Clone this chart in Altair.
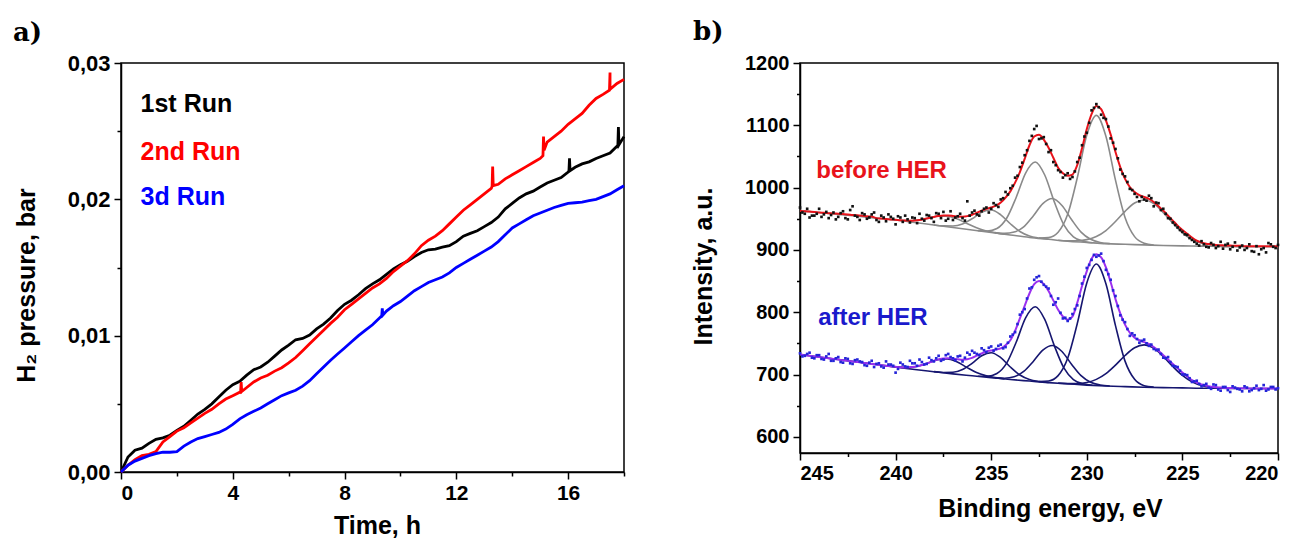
import altair as alt
import numpy as np
import pandas as pd

SANS = "Liberation Sans"
SERIF = "DejaVu Serif"

# ---------------- panel a) : H2 pressure vs time ----------------
time_h = [0.0, 0.5, 1.0, 1.5, 2.0, 2.5, 3.0, 3.5, 4.0, 4.5, 5.0, 5.5, 6.0, 6.5, 7.0, 7.5, 8.0, 8.5,
          9.0, 9.5, 10.0, 10.5, 11.0, 11.5, 12.0, 12.5, 13.0, 13.5, 14.0, 14.5, 15.0, 15.5, 16.0,
          16.5, 17.0, 17.5, 18.0]
time_q = [0.25, 0.75, 1.25, 1.75, 2.25, 2.75, 3.25, 3.75, 4.25, 4.75, 5.25, 5.75, 6.25, 6.75, 7.25,
          7.75, 8.25, 8.75, 9.25, 9.75, 10.25, 10.75, 11.25, 11.75, 12.25, 12.75, 13.25, 13.75,
          14.25, 14.75, 15.25, 15.75, 16.25, 16.75, 17.25, 17.75]
# values in 1e-3 bar
run1 = [0.0, 1.6, 2.1, 2.5, 3.05, 3.8, 4.6, 5.5, 6.4, 7.1, 7.7, 8.5, 9.3, 9.8, 10.5, 11.3, 12.3, 13.0,
        13.8, 14.5, 15.2, 15.8, 16.3, 16.5, 16.9, 17.5, 18.0, 18.7, 19.7, 20.4, 20.9, 21.4, 22.0,
        22.6, 23.0, 23.4, 24.6]
run1_q = [1.1, 1.75, 2.4, 2.7, 3.35, 4.25, 5.0, 6.0, 6.65, 7.5, 8.05, 8.95, 9.7, 10.05, 10.85, 11.85,
          12.6, 13.45, 14.1, 14.9, 15.45, 16.1, 16.35, 16.6, 17.3, 17.7, 18.3, 19.3, 20.1, 20.6,
          21.2, 21.6, 22.35, 22.75, 23.2, 23.9]
run2 = [0.0, 0.9, 1.3, 2.2, 3.0, 3.6, 4.3, 5.0, 5.6, 6.2, 6.9, 7.4, 8.0, 8.9, 9.9, 10.9, 11.9, 12.7,
        13.5, 14.2, 15.1, 16.0, 17.0, 17.7, 18.7, 19.6, 20.4, 21.1, 21.8, 22.4, 23.0, 24.6, 25.5,
        26.3, 27.4, 28.1, 28.8]
run2_q = [0.5, 1.2, 1.5, 2.6, 3.25, 3.95, 4.6, 5.35, 5.85, 6.6, 7.1, 7.65, 8.4, 9.4, 10.4, 11.35,
          12.3, 13.1, 13.8, 14.7, 15.5, 16.6, 17.3, 18.2, 19.2, 20.0, 20.8, 21.5, 22.1, 22.7,
          24.2, 25.0, 25.9, 26.9, 27.7, 28.5]
run3 = [0.0, 0.8, 1.2, 1.45, 1.5, 2.2, 2.6, 2.9, 3.5, 4.2, 4.7, 5.3, 5.8, 6.3, 7.2, 8.2, 9.1, 10.0,
        10.8, 11.8, 12.5, 13.3, 13.9, 14.3, 15.0, 15.6, 16.2, 16.9, 17.9, 18.5, 19.0, 19.4, 19.7,
        19.8, 20.0, 20.4, 21.0]
run3_q = [0.5, 1.0, 1.35, 1.45, 1.9, 2.45, 2.75, 3.15, 3.9, 4.45, 5.0, 5.6, 6.0, 6.7, 7.7, 8.65,
          9.55, 10.4, 11.3, 12.2, 12.9, 13.6, 14.1, 14.6, 15.3, 15.9, 16.5, 17.4, 18.2, 18.8,
          19.2, 19.55, 19.75, 19.9, 20.2, 20.7]
# short spikes seen in the traces
run1_spike_t = [16.03, 16.05, 16.07, 17.78, 17.80, 17.82]
run1_spike_v = [22.1, 23.0, 22.1, 23.9, 25.3, 24.0]
run2_spike_t = [4.28, 4.30, 4.32, 13.28, 13.30, 13.32, 15.10, 15.12, 15.14, 17.48, 17.50, 17.52]
run2_spike_v = [5.85, 6.6, 5.9, 20.95, 22.4, 21.0, 23.2, 24.6, 23.6, 28.0, 29.3, 28.1]
run3_spike_t = [9.33, 9.35, 9.37]
run3_spike_v = [11.45, 12.0, 11.5]

run_names = ["1st Run", "2nd Run", "3d Run"]
run_colors = ["#000000", "#ff0000", "#0000ff"]
legend_t = [0.7, 0.7, 0.7]
legend_p = [0.0270, 0.0235, 0.0202]


def run_frame(name, parts):
    tt, vv = [], []
    for t, v in parts:
        tt += list(t)
        vv += [x / 1000.0 for x in v]
    return pd.DataFrame({"t": tt, "p": vv, "run": name}).sort_values("t")


df_runs = pd.concat([
    run_frame(run_names[0], [(time_h, run1), (time_q, run1_q), (run1_spike_t, run1_spike_v)]),
    run_frame(run_names[1], [(time_h, run2), (time_q, run2_q), (run2_spike_t, run2_spike_v)]),
    run_frame(run_names[2], [(time_h, run3), (time_q, run3_q), (run3_spike_t, run3_spike_v)]),
])
df_leg = pd.DataFrame({"t": legend_t, "p": legend_p, "label": run_names, "color": run_colors})

common_axis = dict(
    grid=False, domainColor="black", domainWidth=1.5, tickColor="black", tickWidth=1.5,
    labelColor="black", labelFont=SANS, labelFontWeight="bold", titleColor="black",
    titleFont=SANS, titleFontWeight="bold", titleFontSize=25,
)

W1, H1 = 503, 409
xa = alt.X("t:Q", scale=alt.Scale(domain=[0, 18], nice=False, zero=False),
           axis=alt.Axis(values=[0, 2, 4, 6, 8, 10, 12, 14, 16, 18],
                         labelExpr="datum.value % 4 === 0 ? datum.label : ''",
                         tickSize={"condition": {"test": "datum.value % 4 === 0", "value": 7}, "value": 4},
                         labelFontSize=21, labelPadding=3,
                         title="Time, h", titleX=256, titleY=61, titleAlign="center",
                         titleBaseline="alphabetic", **common_axis))
major_y = "abs(datum.value*100 - round(datum.value*100)) < 0.001"
ya = alt.Y("p:Q", scale=alt.Scale(domain=[0, 0.03], nice=False, zero=False),
           axis=alt.Axis(values=[0, 0.005, 0.01, 0.015, 0.02, 0.025, 0.03],
                         labelExpr=major_y + " ? replace(format(datum.value, '.2f'), '.', ',') : ''",
                         tickSize={"condition": {"test": major_y, "value": 7}, "value": 4},
                         labelFontSize=22, labelPadding=4,
                         title="H₂ pressure, bar", titleX=-95, titleY=222, titleAngle=270,
                         titleAlign="center", titleBaseline="middle", **common_axis))

lines_a = alt.Chart(df_runs).mark_line(strokeWidth=2.8).encode(
    x=xa, y=ya,
    color=alt.Color("run:N", scale=alt.Scale(domain=run_names, range=run_colors), legend=None),
)
leg_a = alt.Chart(df_leg).mark_text(align="left", baseline="middle", font=SANS, fontSize=25,
                                    fontWeight="bold").encode(
    x="t:Q", y="p:Q", text="label:N", color=alt.Color("color:N", scale=None))
tag_a = alt.Chart(df_leg.head(1)).mark_text(text="a)", font=SERIF, fontSize=26, fontWeight="bold",
                                            align="left", baseline="alphabetic").encode(
    x=alt.value(-108), y=alt.value(-22))

panel_a = alt.layer(lines_a, leg_a, tag_a).properties(width=W1, height=H1)

# ---------------- panel b) : XPS spectra ----------------
E_grid = np.round(np.linspace(245, 220, 101), 3)
E_mid = np.round(np.linspace(244.875, 220.125, 100), 3)

env_before = [963, 962, 961.5, 961,
              960, 959.5, 959, 958.5,
              958, 957.5, 957, 956,
              955.5, 955, 954, 953.5,
              951, 950.3, 949.6, 948.9,
              948.3, 947.6, 947.1, 946.9,
              947.3, 948.1, 949.5, 951.1,
              952.9, 954.3, 955.1, 955.1,
              954.5, 953.6, 953.4, 954.2,
              956.5, 959.7, 963, 965.9,
              968, 971, 976, 984,
              994, 1008, 1025, 1046,
              1068, 1082, 1085, 1077,
              1064, 1048, 1032, 1023,
              1019, 1021, 1036, 1063,
              1094, 1118, 1131, 1126,
              1108, 1085, 1057, 1033,
              1014, 1001, 993, 988,
              985, 982, 977, 970,
              963, 955, 947, 939,
              932, 926, 920, 915,
              912, 910, 909, 908,
              907.5, 907, 907, 906.5,
              906.5, 906, 906, 906,
              906, 906, 906, 906,
              906]
dots_before = [968, 958, 952, 955,
               966, 957, 951, 960,
               953, 962, 949, 970,
               953, 959, 950, 957,
               948, 955, 946, 953,
               941, 952, 955, 944,
               951, 958, 947, 955,
               945, 958, 961, 950,
               948, 954, 951, 978,
               960, 957, 962, 968,
               966, 972, 981, 993,
               999, 1016, 1033, 1052,
               1075, 1094, 1078, 1081,
               1057, 1041, 1028, 1016,
               1023, 1017, 1041, 1068,
               1088, 1124, 1134, 1117,
               1110, 1079, 1062, 1029,
               1018, 998, 990, 978,
               981, 987, 970, 975,
               966, 951, 944, 936,
               929, 924, 916, 910,
               914, 905, 911, 903,
               913, 908, 901, 912,
               904, 900, 909, 897,
               893, 903, 911, 905,
               908]
dots_before_mid = [960, 966, 955, 958,
                   953, 961, 956, 949,
                   959, 951, 964, 955,
                   948, 957, 952, 960,
                   945, 952, 957, 950,
                   954, 945, 949, 952,
                   943, 950, 956, 951,
                   959, 951, 947, 962,
                   952, 958, 947, 955,
                   963, 955, 966, 960,
                   975, 969, 983, 989,
                   1003, 1019, 1040, 1060,
                   1083, 1099, 1079, 1070,
                   1060, 1036, 1025, 1020,
                   1014, 1026, 1048, 1082,
                   1104, 1128, 1129, 1112,
                   1098, 1072, 1047, 1022,
                   1009, 996, 985, 985,
                   979, 983, 976, 964,
                   958, 950, 940, 932,
                   925, 919, 913, 907,
                   909, 904, 908, 906,
                   902, 910, 905, 899,
                   907, 903, 898, 906,
                   901, 896, 909, 903]
env_after = [732, 731, 730, 729,
             728, 727, 726, 725,
             724, 723, 722, 721,
             720, 719, 718, 717,
             716, 715, 714.1, 713.2,
             712.4, 711.7, 711.4, 711.6,
             712.4, 714, 716.4, 719.1,
             722, 724.3, 725.8, 726.1,
             725.3, 724.5, 723.8, 724.5,
             726.7, 730.2, 733.7, 737,
             738.5, 740, 742, 747,
             755, 770, 790, 810,
             830, 845, 850, 845,
             834, 819, 804, 793,
             788, 793, 815, 842,
             866, 886, 893, 888,
             872, 848, 821, 798,
             780, 767, 759, 755,
             752, 749, 744, 738,
             731, 724, 717, 710,
             703, 697, 691, 687,
             684, 682, 680.5, 679.5,
             679, 678.5, 678.5, 678,
             678, 678, 677.5, 677.5,
             677.5, 677.5, 677.5, 677.5,
             677.5]
dots_after = [734, 730, 735, 726,
              731, 724, 733, 722,
              728, 719, 725, 717,
              724, 720, 714, 722,
              717, 713, 721, 716,
              703, 719, 713, 722,
              718, 724, 716, 727,
              721, 730, 724, 733,
              726, 729, 721, 735,
              738, 733, 742, 736,
              745, 741, 748, 744,
              761, 768, 796, 805,
              838, 852, 858, 844,
              838, 812, 822, 790,
              786, 797, 811, 846,
              871, 884, 889, 894,
              868, 852, 826, 795,
              784, 762, 763, 751,
              756, 746, 741, 740,
              727, 728, 714, 712,
              700, 699, 688, 690,
              681, 685, 677, 683,
              674, 680, 672, 679,
              676, 681, 673, 678,
              675, 683, 676, 680,
              678]
dots_after_mid = [729, 733, 727, 731,
                  725, 729, 722, 726,
                  720, 726, 718, 723,
                  721, 715, 719, 712,
                  718, 711, 716, 714,
                  709, 716, 712, 718,
                  714, 720, 717, 723,
                  726, 722, 731, 728,
                  723, 730, 727, 732,
                  735, 731, 739, 743,
                  738, 746, 742, 751,
                  764, 781, 800, 822,
                  840, 856, 849, 841,
                  826, 816, 799, 791,
                  790, 805, 826, 857,
                  876, 892, 891, 882,
                  861, 835, 810, 788,
                  773, 766, 757, 754,
                  750, 748, 739, 733,
                  726, 720, 713, 706,
                  700, 694, 689, 685,
                  683, 679, 684, 676,
                  680, 675, 681, 677,
                  673, 679, 675, 682,
                  677, 674, 680, 676]

base_E = [245, 244, 243, 242, 241, 240, 239, 238, 237, 236, 235, 234, 233, 232, 231, 230, 229, 228,
          227, 226, 225, 224, 223, 222, 221, 220]
base_before = [963, 960, 957, 954, 951, 948, 944, 940, 936, 932, 928, 924, 920, 917, 914, 912, 910,
               909, 908, 907, 906.5, 906, 905.5, 905, 905, 905]
base_after = [732, 728, 724, 720, 716, 712, 708, 704.5, 701, 698, 695, 692, 689.5, 687, 685, 683,
              681.5, 680.5, 679.5, 679, 678.5, 678, 678, 677.5, 677.5, 677.5]

# fitted components, before HER
c1b_E = [240.3, 239.8, 239.3, 238.8, 238.3, 237.8, 237.3, 236.8, 236.3, 235.8, 235.3, 234.8, 234.3]
c1b_I = [949.0, 947.7, 946.9, 947.9, 950.8, 953.9, 954.2, 949.9, 942.8, 935.9, 930.9, 927.7, 925.3]
c2b_E = [238.0, 237.5, 237.0, 236.5, 236.0, 235.5, 235.0, 234.5, 234.0, 233.5, 233.0, 232.5, 232.0]
c2b_I = [940.1, 938.5, 938.3, 941.6, 950.0, 960.3, 964.0, 956.3, 942.0, 929.6, 922.3, 919.0, 917.1]
c3b_E = [235.7, 235.2, 234.7, 234.2, 233.7, 233.2, 232.7, 232.2, 231.7, 231.2, 230.7, 230.2, 229.7]
c3b_I = [931.0, 930.4, 934.4, 950.4, 983.8, 1023.4, 1041.1, 1020.2, 977.1, 940.2, 921.0, 914.0, 911.6]
c4b_E = [234.8, 234.3, 233.8, 233.3, 232.8, 232.3, 231.8, 231.3, 230.8, 230.3, 229.8, 229.3, 228.8]
c4b_I = [927.4, 926.5, 928.6, 936.9, 954.6, 974.3, 982.4, 971.3, 948.8, 928.6, 917.0, 911.9, 910.0]
c5b_E = [232.5, 232.0, 231.5, 231.0, 230.5, 230.0, 229.5, 229.0, 228.5, 228.0, 227.5, 227.0, 226.5]
c5b_I = [918.9, 919.7, 928.3, 957.1, 1015.5, 1084.4, 1116.0, 1082.4, 1012.0, 952.1, 921.3, 910.7, 907.9]
c6b_E = [231.5, 231.0, 230.5, 230.0, 229.5, 229.0, 228.5, 228.0, 227.5, 227.0, 226.5, 226.0, 225.5,
         225.0, 224.5, 224.0, 223.5, 223.0, 222.5]
c6b_I = [915.6, 914.5, 914.7, 916.5, 921.5, 931.0, 945.5, 961.9, 975.2, 980.0, 974.2, 959.9, 942.8,
         927.5, 916.8, 910.5, 907.4, 906.0, 905.4]
# after HER
c1a_E = c1b_E
c1a_I = [713.3, 711.8, 711.5, 713.6, 718.6, 723.7, 725.1, 720.3, 711.9, 703.7, 698.2, 695.0, 693.0]
c2a_E = c2b_E
c2a_I = [704.6, 703.3, 703.5, 707.9, 718.0, 730.1, 735.0, 727.1, 712.0, 699.2, 692.0, 688.8, 687.1]
c3a_E = c3b_E
c3a_I = [697.3, 697.2, 701.6, 717.8, 751.3, 790.9, 808.8, 788.4, 746.4, 710.6, 691.9, 685.0, 682.8]
c4a_E = c4b_E
c4a_I = [694.6, 694.1, 696.4, 704.9, 721.0, 739.1, 746.6, 736.9, 716.6, 698.2, 687.6, 683.2, 681.5]
c5a_E = c5b_E
c5a_I = [688.7, 689.6, 698.2, 726.0, 781.5, 847.0, 877.3, 845.5, 778.5, 721.5, 692.2, 682.1, 679.7]
c6a_E = c6b_E
c6a_I = [686.1, 685.5, 685.6, 687.3, 692.2, 701.4, 715.0, 730.5, 743.0, 747.5, 742.3, 729.0, 712.8,
         698.4, 688.2, 682.3, 679.6, 678.5, 677.9]

GRAY, NAVY, RED, PURPLE = "#8a8a8a", "#161670", "#e8131b", "#9b30f0"
DOT_B, DOT_A = "#111111", "#2424d8"

comp_rows = []
for gid, col, parts in [
    ("b", GRAY, [(base_E, base_before), (c1b_E, c1b_I), (c2b_E, c2b_I), (c3b_E, c3b_I),
                 (c4b_E, c4b_I), (c5b_E, c5b_I), (c6b_E, c6b_I)]),
    ("a", NAVY, [(base_E, base_after), (c1a_E, c1a_I), (c2a_E, c2a_I), (c3a_E, c3a_I),
                 (c4a_E, c4a_I), (c5a_E, c5a_I), (c6a_E, c6a_I)]),
]:
    for k, (ee, ii) in enumerate(parts):
        for e, i in zip(ee, ii):
            comp_rows.append({"E": e, "I": i, "id": f"{gid}{k}", "color": col})
df_comp = pd.DataFrame(comp_rows)

df_env = pd.concat([
    pd.DataFrame({"E": E_grid, "I": env_before, "id": "before", "color": RED}),
    pd.DataFrame({"E": E_grid, "I": env_after, "id": "after", "color": PURPLE}),
])
df_dots = pd.concat([
    pd.DataFrame({"E": E_grid, "I": dots_before, "color": DOT_B}),
    pd.DataFrame({"E": E_mid, "I": dots_before_mid, "color": DOT_B}),
    pd.DataFrame({"E": E_grid, "I": dots_after, "color": DOT_A}),
    pd.DataFrame({"E": E_mid, "I": dots_after_mid, "color": DOT_A}),
])
lbl_text = ["before HER", "after HER"]
lbl_E = [244.15, 244.05]
lbl_I = [1026, 791]
lbl_col = [RED, "#1a1acc"]
df_lbl = pd.DataFrame({"E": lbl_E, "I": lbl_I, "label": lbl_text, "color": lbl_col})

W2, H2 = 478, 390
xb = alt.X("E:Q", scale=alt.Scale(domain=[220, 245], reverse=True, nice=False, zero=False),
           axis=alt.Axis(values=[220, 222.5, 225, 227.5, 230, 232.5, 235, 237.5, 240, 242.5, 245],
                         labelExpr="datum.value % 5 === 0 ? datum.label : ''",
                         tickSize={"condition": {"test": "datum.value % 5 === 0", "value": 7}, "value": 3.5},
                         labelFontSize=20, labelPadding=3,
                         title="Binding energy, eV", titleX=250, titleY=63, titleAlign="center",
                         titleBaseline="alphabetic", **common_axis))
yb = alt.Y("I:Q", scale=alt.Scale(domain=[574, 1200], nice=False, zero=False),
           axis=alt.Axis(values=[600, 650, 700, 750, 800, 850, 900, 950, 1000, 1050, 1100, 1150, 1200],
                         labelExpr="datum.value % 100 === 0 ? datum.label : ''",
                         tickSize={"condition": {"test": "datum.value % 100 === 0", "value": 7}, "value": 3.5},
                         labelFontSize=20, labelPadding=4, format="d",
                         title="Intensity, a.u.", titleX=-97, titleY=203, titleAngle=270,
                         titleAlign="center", titleBaseline="middle", **common_axis))

comp_b = alt.Chart(df_comp).mark_line(strokeWidth=1.6, interpolate="monotone").encode(
    x=xb, y=yb, detail="id:N", color=alt.Color("color:N", scale=None))
env_b = alt.Chart(df_env).mark_line(strokeWidth=2.0, interpolate="monotone").encode(
    x=xb, y=yb, detail="id:N", color=alt.Color("color:N", scale=None))
dots_b = alt.Chart(df_dots).mark_square(size=7, opacity=1).encode(
    x=xb, y=yb, color=alt.Color("color:N", scale=None))
lbl_b = alt.Chart(df_lbl).mark_text(align="left", baseline="middle", font=SANS, fontSize=24,
                                    fontWeight="bold").encode(
    x=xb, y=yb, text="label:N", color=alt.Color("color:N", scale=None))
tag_b = alt.Chart(df_lbl.head(1)).mark_text(text="b)", font=SERIF, fontSize=26, fontWeight="bold",
                                            align="left", baseline="alphabetic").encode(
    x=alt.value(-107), y=alt.value(-23))

panel_b = alt.layer(comp_b, env_b, dots_b, lbl_b, tag_b).properties(width=W2, height=H2)

chart = alt.hconcat(panel_a, panel_b, spacing=59).properties(
    padding={"left": 12, "top": 18, "right": 0, "bottom": 0},
    background="white",
).configure_view(stroke="black", strokeWidth=1.5)

chart.save("out.html", embed_options={"renderer": "svg", "actions": False})
